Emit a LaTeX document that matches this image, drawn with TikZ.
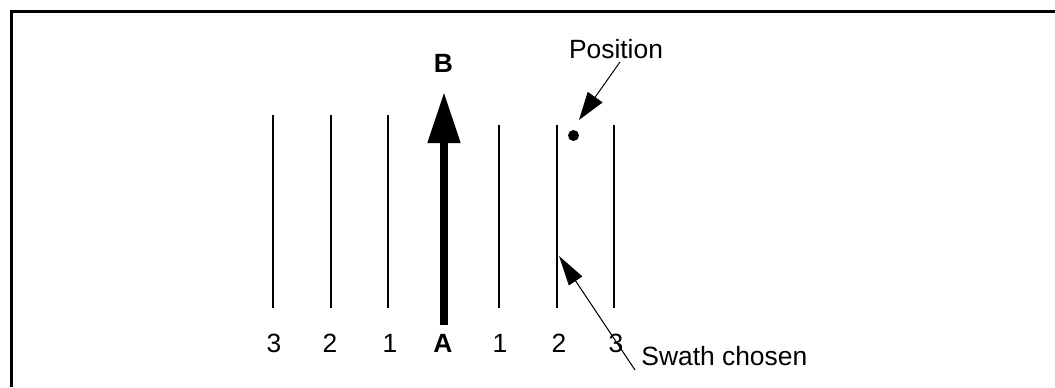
\documentclass[tikz,border=0pt]{standalone}
\usepackage{fontspec}
\setmainfont{Liberation Sans}
\usetikzlibrary{arrows.meta}
\tikzset{
  lbl/.style={font=\fontsize{13.2pt}{15pt}\selectfont, inner sep=0pt},
  blbl/.style={lbl, font=\fontsize{13.2pt}{15pt}\selectfont\bfseries},
  swath/.style={line width=1pt},
  pointer/.style={line width=0.5pt, -{Triangle[length=#1]}},
}
\begin{document}
\begin{tikzpicture}[x=0.5pt, y=-0.5pt]
  \useasboundingbox (0,0) rectangle (1055,387);
  % open frame: top and left edges
  \draw[line width=1.5pt] (11.5,387) -- (11.5,11.5) -- (1055,11.5);

  % swath lines left of the path
  \foreach \x in {273,331,388}
    \draw[swath] (\x,115) -- (\x,308);
  % swath lines right of the path
  \foreach \x in {499,557,614}
    \draw[swath] (\x,125) -- (\x,308);

  % swath numbers and end labels
  \node[lbl]  (l3) at (274,343) {3};
  \node[lbl]  (l2) at (330,343) {2};
  \node[lbl]  (l1) at (390,343) {1};
  \node[blbl] (A)  at (443,343) {A};
  \node[lbl]  (r1) at (500,343) {1};
  \node[lbl]  (r2) at (559,343) {2};
  \node[lbl]  (r3) at (616,343) {3};
  \node[blbl] (B)  at (443.5,63.5) {B};

  % travel direction A to B
  \coordinate (start) at (444,325);
  \coordinate (end) at (444,92);
  \draw[line width=4pt, -{Triangle[length=25.5pt, width=15.5pt]}] (start) -- (end);

  % current position
  \node[circle, fill, inner sep=0pt, minimum size=5.5pt] (dot) at (573.5,135.5) {};
  \node[lbl] (pos) at (616,49) {Position};
  \coordinate (posfrom) at (620,62);
  \coordinate (posto) at (579,120);
  \draw[pointer={14pt, width=9pt}] (posfrom) -- (posto);

  % chosen swath
  \node[lbl, anchor=west] (sw) at (641,356) {Swath chosen};
  \coordinate (swfrom) at (635,370);
  \coordinate (swto) at (559,256);
  \draw[pointer={15pt, width=8pt}] (swfrom) -- (swto);
\end{tikzpicture}
\end{document}
